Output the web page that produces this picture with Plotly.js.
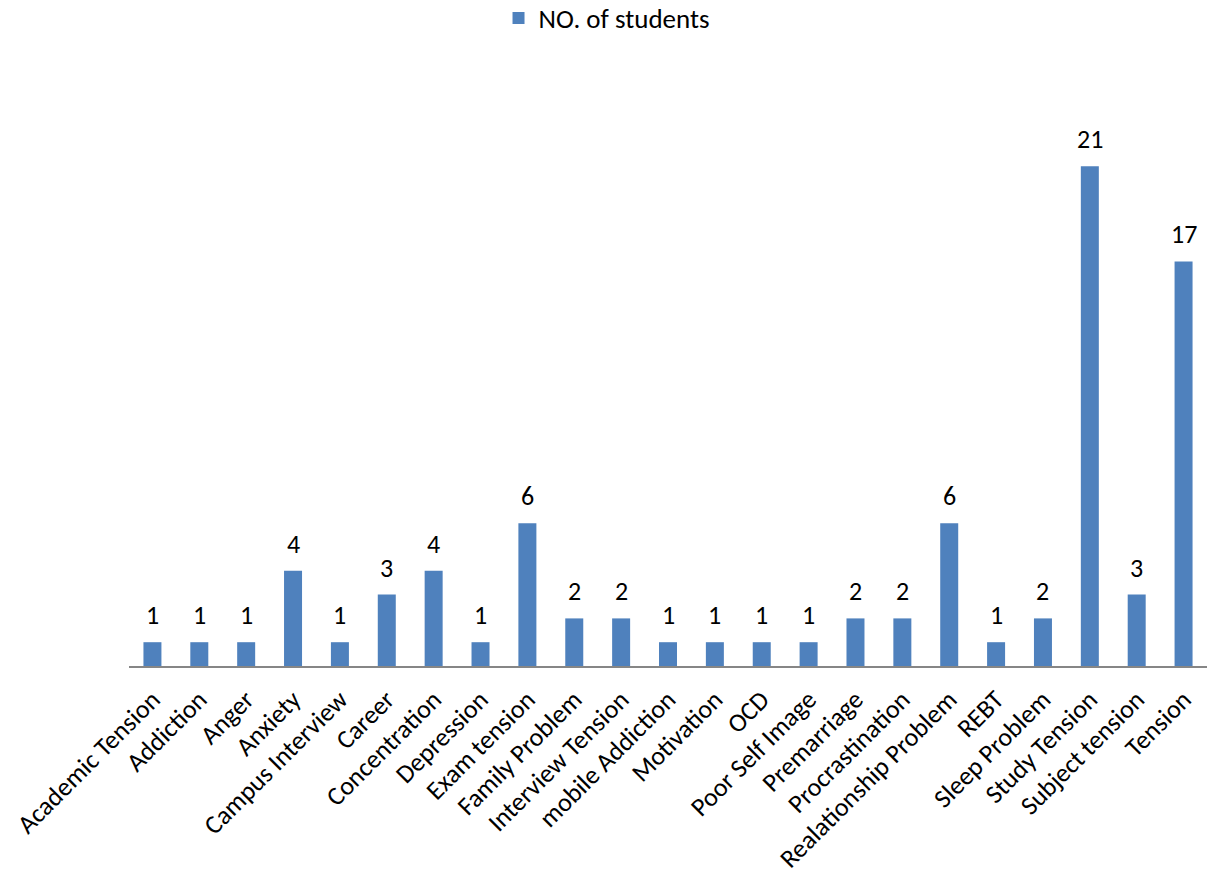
<!DOCTYPE html>
<html>
<head>
<meta charset="utf-8">
<script src="https://cdn.plot.ly/plotly-3.0.1.min.js"></script>
<style>html,body{margin:0;padding:0;background:#fff;}#chart{width:1208px;height:875px;}</style>
</head>
<body>
<div id="chart"></div>
<script>
var categories = ["Academic Tension","Addiction","Anger","Anxiety","Campus Interview","Career","Concentration","Depression","Exam tension","Family Problem","Interview Tension","mobile Addiction","Motivation","OCD","Poor Self Image","Premarriage","Procrastination","Realationship Problem","REBT","Sleep Problem","Study Tension","Subject tension","Tension"];
var students = [1,1,1,4,1,3,4,1,6,2,2,1,1,1,1,2,2,6,1,2,21,3,17];
var seriesName = "NO. of students";

var fontFam = "Calibri, Carlito, Lato, sans-serif";
var trace = {
  type: 'bar',
  x: categories,
  y: students,
  name: seriesName,
  marker: {color: '#4F81BD', line: {width: 0}},
  showlegend: true
};
var annotations = categories.map(function (c, i) {
  return {
    x: c, y: students[i], xref: 'x', yref: 'y',
    text: String(students[i]), showarrow: false,
    yanchor: 'bottom', yshift: 9,
    font: {family: fontFam, size: 26, color: '#000'}
  };
});
var layout = {
  width: 1208, height: 875,
  margin: {l: 129, r: 1, t: 71, b: 209},
  paper_bgcolor: '#fff', plot_bgcolor: '#fff',
  font: {family: fontFam, size: 26, color: '#000'},
  bargap: 0.616,
  showlegend: true,
  legend: {orientation: 'h', xref: 'container', yref: 'container', x: 0.5025, xanchor: 'center', y: 0.979, yanchor: 'middle', itemwidth: 30, font: {family: fontFam, size: 27, color: '#000'}},
  xaxis: {type: 'category', tickangle: -45, showline: true, linecolor: '#868686', linewidth: 2, ticks: '', showgrid: false, ticklabelstandoff: 6, tickfont: {family: fontFam, size: 26, color: '#000'}, automargin: false},
  yaxis: {range: [0, 25], visible: false, showgrid: false, zeroline: false},
  annotations: annotations
};
Plotly.newPlot('chart', [trace], layout, {staticPlot: true, displayModeBar: false});
</script>
</body>
</html>
